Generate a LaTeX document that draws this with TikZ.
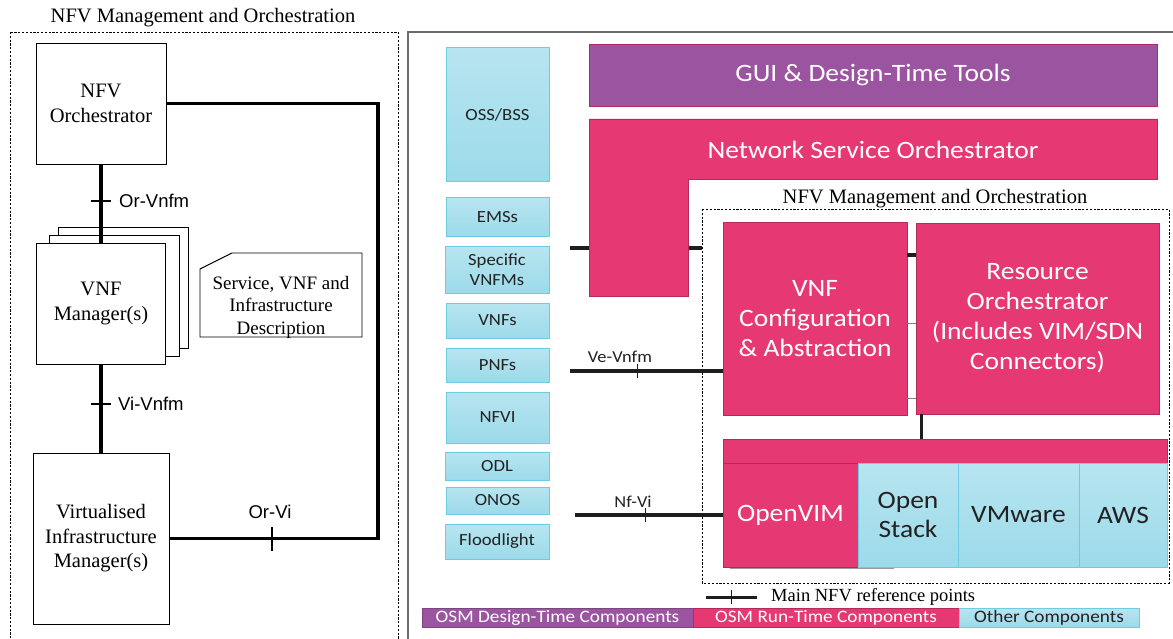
\documentclass[tikz,border=0pt]{standalone}
\usepackage{fontspec}
\setmainfont{Liberation Serif}
\newfontfamily\osm[FakeStretch=1.1]{Carlito}
\newfontfamily\arial{Liberation Sans}
\definecolor{osmpurple}{HTML}{9B55A0}
\definecolor{osmpink}{HTML}{E63873}
\definecolor{pinkedge}{HTML}{B52A5C}
\definecolor{cyantop}{HTML}{B7E5F0}
\definecolor{cyanbot}{HTML}{9CDAEA}
\definecolor{cyanedge}{HTML}{6FCBE2}
\definecolor{panelgray}{HTML}{6B6B6B}
\definecolor{darktext}{HTML}{222222}
\definecolor{linedark}{HTML}{1E1E1E}
\begin{document}
\begin{tikzpicture}[x=1pt,y=-1pt,
  wbox/.style={draw=black,line width=0.9pt,fill=white,align=center,inner sep=0pt,font=\fontsize{20.5}{24.5}\selectfont},
  refline/.style={line width=3.5pt},
  oreline/.style={line width=3.5pt,draw=linedark},
  ticka/.style={line width=1.2pt},
  tickb/.style={line width=1pt,draw=linedark},
  cyanbox/.style={draw=cyanedge,line width=1pt,top color=cyantop,bottom color=cyanbot,align=center,inner sep=0pt,text=darktext,font=\osm\fontsize{17}{20}\selectfont},
  cyanbig/.style={cyanbox,font=\osm\fontsize{25}{29}\selectfont},
  pinkbox/.style={draw=pinkedge,line width=0.8pt,fill=osmpink,text=white,align=center,inner sep=0pt,font=\osm\fontsize{25}{30}\selectfont},
  purplebox/.style={pinkbox,fill=osmpurple},
  legbox/.style={inner sep=0pt,minimum height=19pt,font=\osm\fontsize{17.5}{19}\selectfont},
  sanslabel/.style={font=\arial\fontsize{18.5}{20}\selectfont,inner sep=0pt},
  osmlabel/.style={font=\osm\fontsize{16.7}{19}\selectfont,text=darktext,inner sep=0pt},
  serifttl/.style={font=\fontsize{20.5}{24}\selectfont,inner sep=0pt}
]
\useasboundingbox (0,0) rectangle (1173,639);
\fill[white] (0,0) rectangle (1173,639);

% ---------------- Left panel ----------------
\draw[dash pattern=on 2.2pt off 1.6pt,line width=0.8pt] (10,32) rectangle (398,660);
\node[serifttl] (lefttitle) at (203,18) {NFV Management and Orchestration};

\node[wbox,minimum width=130pt,minimum height=121pt] (nfvo) at (101,103.5) {NFV\\Orchestrator};

\draw[line width=0.9pt,fill=white] (58,227) rectangle (188,348);
\draw[line width=0.9pt,fill=white] (49,235) rectangle (179,356);
\node[wbox,minimum width=129pt,minimum height=121pt] (vnfm) at (101,303.5) {VNF\\Manager(s)};

\node[wbox,minimum width=136pt,minimum height=171pt] (vim) at (101,538.5) {Virtualised\\Infrastructure\\Manager(s)};

\draw[line width=0.9pt,fill=white] (200,269) -- (232,253) -- (362,253) -- (362,337) -- (200,337) -- cycle;
\node[align=center,inner sep=0pt,font=\fontsize{19}{22.5}\selectfont] (desc) at (281,307) {Service, VNF and\\Infrastructure\\Description};

\draw[refline] (nfvo.south) -- (vnfm.north);
\draw[ticka] (91,201) -- (111,201);
\node[sanslabel,anchor=west] (orvnfm) at (119,201) {Or-Vnfm};

\draw[refline] (vnfm.south) -- (vim.north);
\draw[ticka] (91,404) -- (111,404);
\node[sanslabel,anchor=west] (vivnfm) at (118,404) {Vi-Vnfm};

\coordinate (cR) at (378,300);
\draw[refline] (nfvo.east) -| (cR |- vim.east) -- (vim.east);
\draw[ticka] (272,527) -- (272,551);
\node[sanslabel] (orvi) at (270,512) {Or-Vi};

% ---------------- Right panel ----------------
\draw[draw=panelgray,line width=1.2pt] (408,32) rectangle (1195,665);

\node[cyanbox,minimum width=103pt,minimum height=134pt] (oss) at (497.5,115) {OSS/BSS};
\node[cyanbox,minimum width=103pt,minimum height=39pt] (ems) at (497.5,217.5) {EMSs};
\node[cyanbox,minimum width=104pt,minimum height=46pt] (svnfm) at (497,270) {Specific\\VNFMs};
\node[cyanbox,minimum width=103pt,minimum height=35pt] (vnfs) at (497.5,320.5) {VNFs};
\node[cyanbox,minimum width=103pt,minimum height=34pt] (pnfs) at (497.5,365) {PNFs};
\node[cyanbox,minimum width=103pt,minimum height=51pt] (nfvi) at (497.5,417.5) {NFVI};
\node[cyanbox,minimum width=104pt,minimum height=28pt] (odl) at (497,466) {ODL};
\node[cyanbox,minimum width=103pt,minimum height=27pt] (onos) at (497.5,500.5) {ONOS};
\node[cyanbox,minimum width=104pt,minimum height=35pt] (flood) at (497,541.5) {Floodlight};

\node[purplebox,minimum width=568pt,minimum height=62pt] (gui) at (873,75) {GUI \& Design-Time Tools};

\coordinate (osl) at (570,248);
\coordinate (osr) at (702,248);
\draw[oreline] (osl) -- (osr);
\filldraw[fill=osmpink,draw=pinkedge,line width=0.8pt] (589,119) -- (1157,119) -- (1157,179) -- (688,179) -- (688,296) -- (589,296) -- cycle;
\node[text=white,inner sep=0pt,font=\osm\fontsize{25}{30}\selectfont] (nso) at (873,150) {Network Service Orchestrator};

\draw[dash pattern=on 2.2pt off 1.6pt,line width=0.8pt] (702,209) rectangle (1169,583);
\node[serifttl] (innertitle) at (935,199) {NFV Management and Orchestration};

\node[pinkbox,minimum width=184pt,minimum height=193pt] (vnfc) at (815,318.5) {VNF\\Configuration\\\& Abstraction};
\node[pinkbox,minimum width=243pt,minimum height=191pt] (ro) at (1037.5,318.5) {Resource\\Orchestrator\\(Includes VIM/SDN\\Connectors)};

\coordinate (h1) at (0,255);
\draw[oreline,line width=3.2pt] (vnfc.east |- h1) -- (ro.west |- h1);
\coordinate (h2) at (0,323);
\coordinate (h3) at (0,398);
\draw[gray,line width=0.9pt] (vnfc.east |- h2) -- (ro.west |- h2);
\draw[gray,line width=0.9pt] (vnfc.east |- h3) -- (ro.west |- h3);

\node[pinkbox,minimum width=444pt,minimum height=24pt] (vimbar) at (945,451) {};
\coordinate (v1) at (921.5,0);
\draw[oreline,line width=3.2pt] (v1 |- ro.south) -- (v1 |- vimbar.north);

\draw[gray!80,line width=1.2pt] (730,568.5) -- (894,568.5);
\node[pinkbox,font=\osm\fontsize{25}{29}\selectfont,minimum width=135pt,minimum height=104pt] (openvim) at (790.5,515) {OpenVIM};
\node[cyanbig,minimum width=100pt,minimum height=104pt] (openstack) at (908,515) {Open\\Stack};
\node[cyanbig,minimum width=121pt,minimum height=104pt] (vmware) at (1018.5,515) {VMware};
\node[cyanbig,minimum width=88pt,minimum height=104pt] (aws) at (1123,515) {AWS};

\coordinate (ve) at (570,371);
\draw[oreline] (ve) -- (ve -| vnfc.west);
\draw[tickb] (637,364) -- (637,378);
\node[osmlabel] (velabel) at (620,357) {Ve-Vnfm};

\coordinate (nf) at (575,515);
\draw[oreline] (nf) -- (openvim.west);
\draw[tickb] (645,508) -- (645,522);
\node[osmlabel] (nflabel) at (633,502) {Nf-Vi};

% legend
\coordinate (lg1) at (706,597);
\coordinate (lg2) at (757,597);
\draw[oreline,line width=3pt] (lg1) -- (lg2);
\draw[tickb] (731,590) -- (731,604);
\node[anchor=west,inner sep=0pt,font=\fontsize{18.5}{20}\selectfont] (legtext) at (771,597) {Main NFV reference points};

\node[legbox,fill=osmpurple,draw=osmpurple!80!black,line width=0.6pt,text=white,minimum width=271pt] (legd) at (557.5,617.5) {OSM Design-Time Components};
\node[legbox,fill=osmpink,draw=pinkedge,line width=0.6pt,text=white,minimum width=266pt] (legr) at (826,617.5) {OSM Run-Time Components};
\node[legbox,top color=cyantop,bottom color=cyanbot,draw=cyanedge,line width=0.8pt,text=darktext,minimum width=180pt] (lego) at (1049,617.5) {Other Components};
\end{tikzpicture}
\end{document}
